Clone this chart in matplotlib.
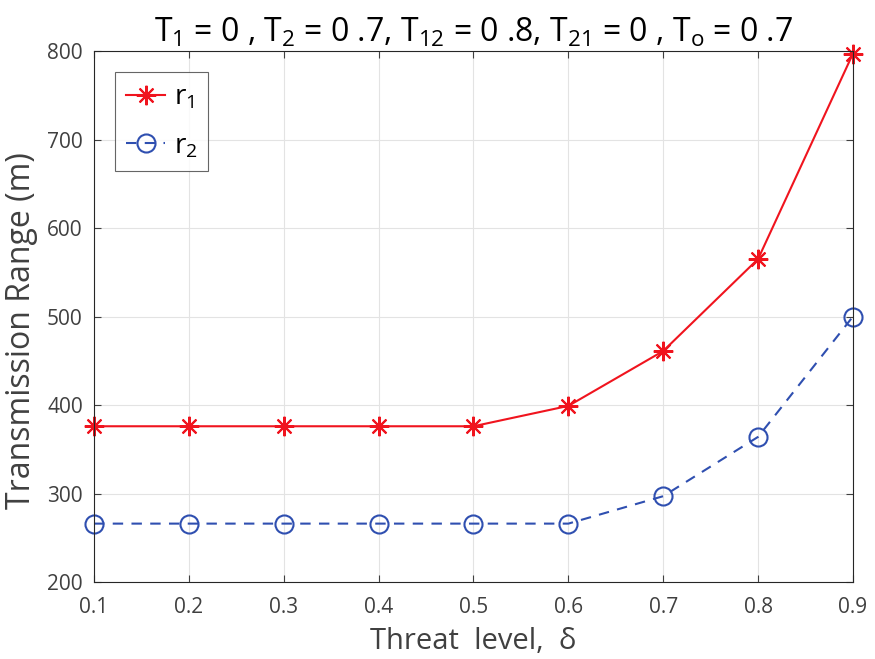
import matplotlib
matplotlib.use('Agg')
import matplotlib.pyplot as plt

threat = [0.1, 0.2, 0.3, 0.4, 0.5, 0.6, 0.7, 0.8, 0.9]
r1 = [376, 376, 376, 376, 376, 399, 461, 565, 797]
r2 = [266, 266, 266, 266, 266, 266, 297, 364, 500]

plt.rcParams['font.family'] = ['Open Sans', 'DejaVu Sans']
plt.rcParams['mathtext.default'] = 'regular'

fig = plt.figure(figsize=(8.75, 6.59), dpi=100)
ax = fig.add_axes([0.1074, 0.1168, 0.8674, 0.8058])

ax.plot(threat, r1, '-', color='#f0141e', lw=1.5, marker=(8, 2, 0), ms=14,
        mew=1.5, label='r$_1$', clip_on=False)
ax.plot(threat, r2, '--', color='#2f4fb0', lw=1.5, marker='o', mfc='none',
        ms=13, mew=1.5, dashes=(5, 4), label='r$_2$', clip_on=False)

ax.set_xlim(0.1, 0.9)
ax.set_ylim(200, 800)
ax.set_xticks(threat)
ax.set_yticks(range(200, 801, 100))
ax.grid(True, color='#e3e3e3', lw=0.8)
ax.tick_params(direction='in', labelsize=15, colors='#404040', length=5,
               top=True, right=True)
ax.tick_params(axis='x', pad=11)
ax.tick_params(axis='y', pad=8)
for s in ax.spines.values():
    s.set_color('#262626')
    s.set_linewidth(0.8)

ax.set_xlabel('Threat  level,  δ', fontsize=21, color='#404040', labelpad=6)
ax.set_ylabel('Transmission Range (m)', fontsize=23, color='#404040')
ax.yaxis.set_label_coords(-0.074, 0.473)
ax.set_title('T$_1$ = 0 , T$_2$ = 0 .7, T$_{12}$ = 0 .8, T$_{21}$ = 0 , T$_o$ = 0 .7',
             fontsize=23, pad=7)

leg = ax.legend(loc='upper left', bbox_to_anchor=(0.028, 0.96), fontsize=20,
                fancybox=False, edgecolor='#404040', handlelength=1.4,
                handletextpad=0.3, borderpad=0.4, labelspacing=0.75,
                borderaxespad=0)
leg.get_frame().set_linewidth(0.8)

fig.savefig('out.png', dpi=100)
